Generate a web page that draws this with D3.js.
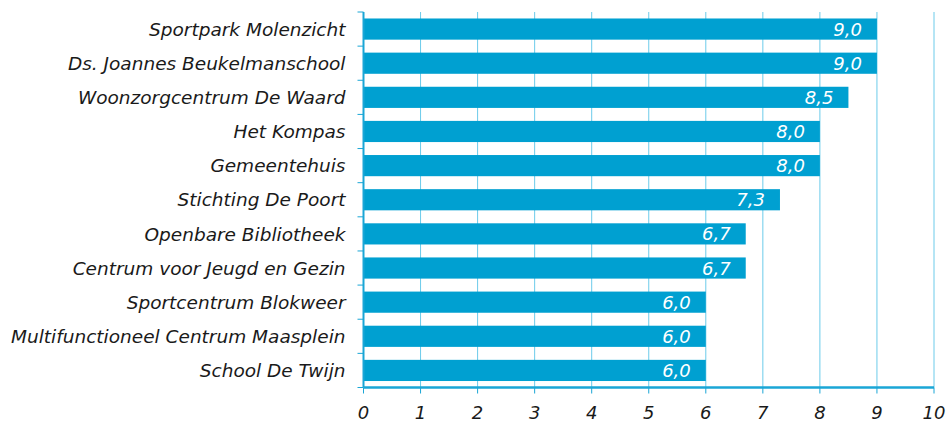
<!DOCTYPE html>
<html><head><meta charset="utf-8">
<script src="https://cdn.jsdelivr.net/npm/d3@7"></script>
<style>body{margin:0;background:#fff}svg{display:block}text{font-family:"DejaVu Sans",Verdana,sans-serif;font-style:italic}</style>
</head><body>
<svg id="c" width="949" height="422"></svg>
<script>
const categories = ["Sportpark Molenzicht","Ds. Joannes Beukelmanschool","Woonzorgcentrum De Waard","Het Kompas","Gemeentehuis","Stichting De Poort","Openbare Bibliotheek","Centrum voor Jeugd en Gezin","Sportcentrum Blokweer","Multifunctioneel Centrum Maasplein","School De Twijn"];
const values = [9.0,9.0,8.5,8.0,8.0,7.3,6.7,6.7,6.0,6.0,6.0];
const xTicks = [0,1,2,3,4,5,6,7,8,9,10];

(function(){
const svg = d3.select("#c");
const pL = 363.5, pR = 934, pT = 12, pB = 387.5;
const x = d3.scaleLinear().domain([0,10]).range([pL,pR]);
const y = d3.scaleBand().domain(categories).range([pT,pB]).paddingInner(0.38).paddingOuter(0.19);
const bandStep = (pB-pT)/categories.length;

svg.append("g").selectAll("line").data(xTicks.slice(1)).join("line")
  .attr("x1",d=>x(d)).attr("x2",d=>x(d)).attr("y1",pT).attr("y2",pB)
  .attr("stroke","#6ccbea").attr("stroke-width",1);

svg.append("g").selectAll("rect").data(values).join("rect")
  .attr("x",x(0)).attr("y",(d,i)=>y(categories[i]))
  .attr("width",d=>x(d)-x(0)).attr("height",y.bandwidth())
  .attr("fill","#00a0d1");

svg.append("g").selectAll("text").data(values).join("text")
  .attr("x",d=>x(d)-15).attr("y",(d,i)=>y(categories[i])+y.bandwidth()/2)
  .attr("dy","0.36em").attr("text-anchor","end").attr("fill","#fff")
  .attr("font-size",18).text(d=>d.toFixed(1).replace(".",","));

const yAxis = svg.append("g");
yAxis.append("line").attr("x1",x(0)).attr("x2",x(0)).attr("y1",pT).attr("y2",pB)
  .attr("stroke","#1aa6d6").attr("stroke-width",2);
const yTickPos = d3.range(categories.length+1).map(i=>pT+i*bandStep);
yAxis.selectAll("line.t").data(yTickPos).join("line").attr("class","t")
  .attr("x1",x(0)-6).attr("x2",x(0)).attr("y1",d=>d).attr("y2",d=>d)
  .attr("stroke","#1aa6d6").attr("stroke-width",1);
yAxis.selectAll("text").data(categories).join("text")
  .attr("x",x(0)-18).attr("y",d=>y(d)+y.bandwidth()/2).attr("dy","0.36em")
  .attr("text-anchor","end").attr("fill","#1a1a1a").attr("font-size",18.5).text(d=>d);

const xAxis = svg.append("g");
xAxis.append("line").attr("x1",x(0)).attr("x2",x(10)).attr("y1",pB).attr("y2",pB)
  .attr("stroke","#1aa6d6").attr("stroke-width",2.5);
xAxis.selectAll("line.t").data(xTicks).join("line").attr("class","t")
  .attr("x1",d=>x(d)).attr("x2",d=>x(d)).attr("y1",pB).attr("y2",pB+6)
  .attr("stroke","#1aa6d6").attr("stroke-width",1);
xAxis.selectAll("text").data(xTicks).join("text")
  .attr("x",d=>x(d)).attr("y",413).attr("dy","0.36em")
  .attr("text-anchor","middle").attr("fill","#1a1a1a").attr("font-size",18).text(d=>d);
})();
</script>
</body></html>
